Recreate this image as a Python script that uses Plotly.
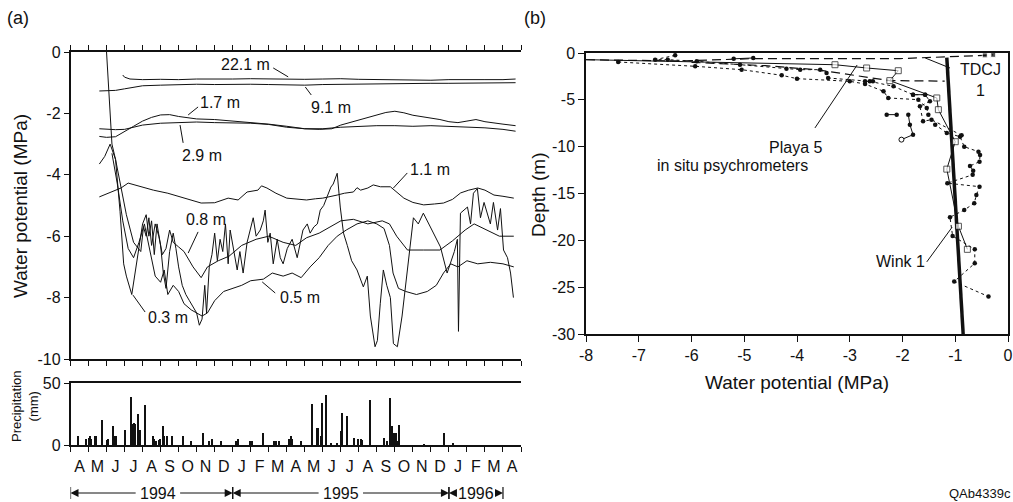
import plotly.graph_objects as go

W, H = 1013, 502
FONT = "Liberation Sans, Arial, Helvetica, sans-serif"
INK = "#111111"


def px(x):
    return min(1.0, max(0.0, x / W))


def py(y):
    return min(1.0, max(0.0, 1 - y / H))


# ---------------- Panel (a): water potential time series ----------------
# x = months since 1 April 1994, value = water potential (MPa)
psi_22_1m = [(2.9, -0.75), (3.0, -0.82), (3.3, -0.88), (4, -0.9), (5, -0.89), (6, -0.9), (7, -0.88),
             (8, -0.89), (9, -0.88), (10, -0.87), (11, -0.88), (12, -0.9), (13, -0.89), (14, -0.88),
             (15, -0.87), (16, -0.89), (17, -0.9), (18, -0.9), (19, -0.91), (20, -0.92), (21, -0.9),
             (22, -0.91), (23, -0.9), (24, -0.9), (24.7, -0.88)]
psi_9_1m = [(1.6, -1.27), (2.0, -1.27), (2.5, -1.25), (3.0, -1.2), (3.5, -1.14), (4, -1.1), (5, -1.08),
            (6, -1.06), (7, -1.05), (8, -1.06), (9, -1.05), (10, -1.05), (11, -1.06), (12, -1.07),
            (13, -1.08), (14, -1.06), (15, -1.05), (16, -1.04), (17, -1.04), (18, -1.03), (19, -1.03),
            (20, -1.02), (21, -1.02), (22, -1.02), (23, -1.01), (24, -1.02), (24.7, -1.0)]
psi_1_7m = [(1.6, -2.75), (2.0, -2.78), (2.5, -2.76), (3.0, -2.6), (3.5, -2.42), (4.0, -2.25), (4.5, -2.13),
            (5.0, -2.05), (5.5, -2.04), (6.0, -2.1), (6.5, -2.15), (7.0, -2.18), (8.0, -2.2), (9.0, -2.25),
            (10, -2.28), (11, -2.35), (12, -2.42), (13, -2.5), (13.8, -2.52), (14.5, -2.5), (15, -2.38),
            (15.5, -2.3), (16, -2.22), (16.5, -2.12), (17, -2.05), (17.5, -1.97), (18, -1.93), (18.5, -1.98),
            (19, -2.06), (19.5, -2.1), (20, -2.15), (20.5, -2.2), (21, -2.27), (21.5, -2.3), (22, -2.25),
            (22.5, -2.2), (23, -2.27), (23.5, -2.32), (24, -2.35), (24.7, -2.4)]
psi_2_9m = [(1.6, -2.5), (2.5, -2.53), (3.0, -2.52), (3.5, -2.45), (4.0, -2.38), (5.0, -2.32), (6.0, -2.3),
            (7.0, -2.28), (8.0, -2.3), (9.0, -2.3), (10, -2.32), (11, -2.36), (12, -2.45), (13, -2.5),
            (14, -2.5), (15, -2.45), (16, -2.42), (17, -2.4), (18, -2.4), (19, -2.42), (20, -2.4),
            (21, -2.42), (22, -2.44), (23, -2.47), (24, -2.52), (24.7, -2.58)]
psi_1_1m = [(1.6, -4.72), (2.25, -4.56), (2.8, -4.43), (3.2, -4.27), (3.9, -4.39), (4.6, -4.5), (5.4, -4.6),
            (6.4, -4.76), (7.25, -4.92), (8.0, -4.91), (8.75, -4.76), (9.3, -4.82), (9.8, -4.56),
            (10.4, -4.5), (10.6, -4.36), (10.9, -4.43), (11.4, -4.6), (12.0, -4.76), (12.6, -4.8),
            (13.1, -4.82), (13.6, -4.78), (14.0, -4.76), (14.8, -4.66), (15.2, -4.6), (15.7, -4.56),
            (15.9, -4.42), (16.1, -4.5), (16.5, -4.43), (16.8, -4.33), (17.2, -4.39), (17.75, -4.39),
            (18.1, -4.55), (18.5, -4.76), (19.0, -4.9), (19.6, -4.98), (20.2, -4.95), (20.7, -4.92),
            (21.2, -4.8), (21.65, -4.59), (22.1, -4.5), (22.6, -4.43), (23.0, -4.5), (23.5, -4.66),
            (24.0, -4.7), (24.6, -4.76)]
psi_0_8m = [(1.6, -3.65), (1.9, -3.4), (2.2, -3.0), (2.5, -3.5), (2.8, -4.4), (3.1, -5.3), (3.5, -6.2),
            (3.9, -6.5), (4.05, -5.7), (4.2, -6.0), (4.35, -5.4), (4.5, -6.3), (4.7, -5.6), (4.9, -6.0),
            (5.1, -6.6), (5.3, -6.4), (5.5, -5.8), (5.7, -6.2), (6.0, -6.35), (6.3, -6.5), (6.8, -7.0),
            (7.25, -7.35), (7.6, -7.0), (8.2, -6.8), (8.8, -6.65), (9.5, -6.3), (10.3, -6.1), (11.0, -6.0),
            (11.8, -6.2), (12.5, -6.3), (13.1, -6.05), (13.8, -5.9), (14.4, -5.7), (15.0, -5.5),
            (15.7, -5.45), (16.5, -5.6), (17.3, -5.5), (17.7, -5.6), (18.1, -6.0), (18.7, -6.45),
            (19.6, -6.45), (20.5, -6.45), (21.2, -6.15), (21.9, -5.8), (22.4, -5.6), (23.1, -5.8),
            (23.8, -6.0), (24.6, -6.0)]
psi_0_5m = [(2.3, -3.3), (2.6, -4.3), (2.9, -5.5), (3.2, -6.4), (3.5, -6.7), (3.8, -6.2), (4.1, -5.6),
            (4.4, -6.5), (4.7, -7.3), (5.0, -7.5), (5.2, -7.1), (5.4, -7.9), (5.7, -7.6), (6.0, -7.8),
            (6.3, -8.2), (6.7, -8.4), (7.0, -8.5), (7.3, -8.6), (7.6, -8.5), (8.0, -8.1), (8.5, -7.8),
            (9.0, -7.7), (9.5, -7.6), (10.0, -7.45), (10.7, -7.4), (11.2, -7.2), (11.8, -7.3),
            (12.3, -7.2), (12.8, -7.35), (13.3, -7.0), (13.8, -6.7), (14.3, -6.3), (14.8, -6.0),
            (15.3, -5.8), (15.9, -5.6), (16.5, -5.5), (17.0, -5.6), (17.4, -5.75), (17.7, -6.3),
            (17.9, -7.2), (18.2, -7.7), (18.6, -7.8), (19.2, -7.9), (19.8, -7.8), (20.3, -7.6),
            (20.7, -7.2), (21.1, -6.9), (21.5, -7.0), (22.0, -6.8), (22.6, -6.9), (23.3, -6.85),
            (24.0, -6.9), (24.6, -7.0)]
psi_0_3m = [(2.0, 0.0), (2.15, -1.6), (2.3, -3.0), (2.5, -3.5), (2.75, -5.2), (2.95, -6.9), (3.1, -7.3),
            (3.4, -7.9), (3.7, -6.8), (4.0, -5.6), (4.2, -5.3), (4.35, -6.0), (4.5, -5.5), (4.65, -6.6),
            (4.8, -5.6), (5.0, -6.3), (5.15, -7.2), (5.3, -7.7), (5.5, -6.5), (5.7, -5.9), (5.85, -6.4),
            (6.0, -7.0), (6.2, -7.6), (6.4, -7.9), (6.6, -8.1), (6.8, -8.3), (7.0, -8.5), (7.15, -8.9),
            (7.3, -8.7), (7.45, -7.6), (7.55, -8.5), (7.7, -7.0), (7.85, -6.6), (8.0, -5.9), (8.15, -6.8),
            (8.3, -6.1), (8.45, -6.5), (8.6, -5.6), (8.75, -6.9), (8.86, -5.8), (9.05, -6.4), (9.25, -7.1),
            (9.4, -6.5), (9.58, -7.2), (9.8, -6.2), (10.14, -5.4), (10.3, -6.0), (10.53, -5.8),
            (10.7, -5.5), (10.8, -5.15), (10.95, -6.2), (11.08, -5.9), (11.25, -6.9), (11.47, -6.1),
            (11.64, -6.7), (11.8, -6.9), (12.03, -6.4), (12.3, -6.1), (12.58, -6.7), (12.9, -5.8),
            (13.14, -5.6), (13.3, -5.9), (13.5, -5.7), (13.7, -5.6), (13.86, -5.15), (14.05, -5.0),
            (14.25, -4.7), (14.45, -4.4), (14.58, -4.3), (14.8, -3.95), (14.97, -5.05), (15.15, -5.9),
            (15.36, -6.3), (15.6, -6.8), (15.9, -7.1), (16.1, -7.4), (16.25, -7.65), (16.47, -7.3),
            (16.64, -8.6), (16.9, -9.6), (17.03, -9.4), (17.19, -8.2), (17.36, -7.1), (17.55, -7.6),
            (17.75, -8.0), (17.92, -9.5), (18.14, -9.6), (18.4, -8.6), (18.7, -7.1), (19.03, -5.4),
            (19.3, -5.6), (19.58, -5.25), (19.97, -5.7), (20.25, -6.0), (20.53, -6.35), (20.9, -7.2),
            (21.08, -6.9), (21.3, -6.5), (21.47, -6.1), (21.53, -9.1), (21.64, -5.25), (22.03, -5.05),
            (22.2, -5.6), (22.36, -4.6), (22.58, -4.45), (22.75, -5.4), (22.95, -4.9), (23.14, -5.25),
            (23.3, -5.6), (23.47, -4.9), (23.7, -5.8), (23.86, -5.1), (24.03, -6.45), (24.25, -6.7),
            (24.42, -7.2), (24.58, -8.0)]

series_a = [psi_22_1m, psi_9_1m, psi_1_7m, psi_2_9m, psi_1_1m, psi_0_8m, psi_0_5m, psi_0_3m]

# depth labels: (text, label month, label value, leader start, leader end)
depth_labels = [
    ("22.1 m", 9.69, -0.42, (11.25, -0.52), (12.08, -0.81)),
    ("9.1 m", 14.47, -1.82, (13.36, -1.40), (13.03, -1.14)),
    ("1.7 m", 8.31, -1.66, (7.08, -1.79), (6.53, -2.05)),
    ("2.9 m", 7.31, -3.36, (6.25, -2.96), (6.08, -2.38)),
    ("1.1 m", 19.97, -3.84, (18.69, -3.94), (17.92, -4.43)),
    ("0.8 m", 7.53, -5.47, (7.08, -5.86), (6.53, -6.55)),
    ("0.5 m", 12.75, -8.01, (11.36, -7.85), (10.64, -7.49)),
    ("0.3 m", 5.42, -8.66, (4.14, -8.47), (3.47, -7.92)),
]

# ---------------- Precipitation (mm), months since 1 April 1994 ----------------
precip = [(0.38, 7.3), (0.86, 5), (0.99, 6), (1.05, 7), (1.12, 5), (1.36, 7), (1.42, 7), (1.73, 20),
          (2.01, 4), (2.06, 5), (2.34, 15), (2.47, 7), (2.53, 7), (2.99, 12), (3.36, 39), (3.44, 17),
          (3.49, 17.5), (3.55, 17), (3.73, 25), (3.86, 12), (4.10, 32), (4.55, 7), (4.64, 5), (4.73, 3),
          (4.88, 4), (4.97, 5), (5.12, 15), (5.19, 7), (5.31, 7), (5.62, 7), (6.23, 7), (6.68, 3),
          (7.34, 10), (7.66, 3), (7.84, 5), (8.34, 3), (9.14, 3), (9.27, 5), (9.94, 3), (10.01, 3),
          (10.06, 3), (10.68, 10), (11.27, 3), (11.36, 3), (11.55, 3), (12.10, 5), (12.19, 7),
          (12.29, 5), (12.75, 3), (13.40, 33), (13.68, 13.5), (13.73, 13.5), (13.90, 7), (13.93, 7),
          (13.96, 34), (14.14, 40.5), (14.42, 1), (14.79, 1), (14.97, 11), (15.06, 26), (15.31, 23),
          (15.71, 6), (15.94, 5), (16.08, 5), (16.18, 4), (16.60, 36.5), (17.38, 6), (17.57, 3),
          (17.71, 38), (17.79, 15), (17.84, 15), (17.94, 9.5), (18.03, 9.5), (18.12, 3), (18.21, 16),
          (19.57, 0.5), (20.71, 10), (21.23, 2)]

month_letters = ["A", "M", "J", "J", "A", "S", "O", "N", "D", "J", "F", "M", "A",
                 "M", "J", "J", "A", "S", "O", "N", "D", "J", "F", "M", "A"]
years = [("1994", 0, 9, 4.85), ("1995", 9, 21, 15.0), ("1996", 21, 24, 22.5)]

# ---------------- Panel (b): depth profiles ----------------
thick_P = [-1.16, -0.85]
thick_D = [-0.5, -30]

sq_P = [-8.0, -3.28, -2.68, -2.08, -2.24, -1.35, -1.32, -1.0, -1.16, -0.94, -0.77]
sq_D = [-0.71, -1.25, -1.6, -1.89, -2.95, -4.8, -6.05, -9.47, -12.4, -18.5, -20.96]

dashA_P = [-8.0, -6.2, -4.83, -2.05, -0.44, -0.28]
dashA_D = [-0.72, -0.85, -0.6, -0.6, -0.25, -0.2]
dashB_P = [-6.0, -4.6, -3.6, -2.24, -1.2]
dashB_D = [-1.0, -1.35, -1.8, -2.95, -3.0]

dot1_P = [-7.39, -5.93, -5.05, -4.29, -4.0, -3.0, -2.71, -2.36, -2.27, -1.7, -1.54, -1.51, -1.38, -1.16,
          -0.91, -0.83, -0.56, -0.53, -0.54, -0.72, -0.66, -0.67, -1.15, -0.54, -0.6, -0.64, -0.83,
          -1.1, -1.05, -0.63, -0.63, -1.02, -0.37]
dot1_D = [-0.96, -1.42, -1.78, -2.38, -2.74, -3.02, -3.31, -4.09, -4.8, -4.98, -5.87, -6.58, -7.65, -8.54,
          -8.93, -10.0, -10.54, -10.89, -11.6, -12.06, -12.56, -13.0, -13.9, -14.27, -15.16, -16.04,
          -16.76, -17.54, -19.54, -20.96, -22.45, -24.4, -26.0]
dot2_P = [-6.31, -6.69, -6.45, -5.9, -5.08, -4.2, -3.94, -3.56, -3.44, -3.41, -2.62, -2.17, -1.8, -1.57,
          -1.48, -1.67, -1.61, -1.45, -0.88]
dot2_D = [-0.25, -0.71, -0.71, -0.89, -1.25, -1.67, -1.78, -1.78, -2.14, -2.67, -3.02, -3.56, -4.45, -4.45,
          -5.16, -5.69, -7.29, -7.12, -8.79]

seg_P = [-5.2, -4.83, None, -2.71, -2.56, None, -1.8, -1.57, None, -2.3, -2.11, None, -1.89, -1.86, -1.8, -2.02]
seg_D = [-0.62, -0.53, None, -3.02, -3.02, None, -4.45, -4.45, None, -6.58, -6.58, None, -6.58, -7.65, -8.72, -9.25]

fig = go.Figure()

for s in series_a:
    fig.add_trace(go.Scatter(x=[p[0] for p in s], y=[p[1] for p in s], mode="lines",
                             line=dict(color=INK, width=1), xaxis="x", yaxis="y", showlegend=False,
                             hoverinfo="skip"))

fig.add_trace(go.Bar(x=[p[0] for p in precip], y=[p[1] for p in precip], width=0.07,
                     marker=dict(color=INK, line=dict(width=0)), xaxis="x2", yaxis="y2",
                     showlegend=False, hoverinfo="skip"))

fig.add_trace(go.Scatter(x=thick_P, y=thick_D, mode="lines", line=dict(color=INK, width=3.5),
                         xaxis="x3", yaxis="y3", showlegend=False))
fig.add_trace(go.Scatter(x=dashA_P, y=dashA_D, mode="lines+markers",
                         line=dict(color=INK, width=1.2, dash="9px,5px"),
                         marker=dict(symbol="square", size=[0, 0, 0, 0, 5, 5], color=INK),
                         xaxis="x3", yaxis="y3", showlegend=False))
fig.add_trace(go.Scatter(x=dashB_P, y=dashB_D, mode="lines", line=dict(color=INK, width=1.2, dash="9px,5px"),
                         xaxis="x3", yaxis="y3", showlegend=False))
fig.add_trace(go.Scatter(x=dot1_P, y=dot1_D, mode="lines+markers", line=dict(color=INK, width=1, dash="dot"),
                         marker=dict(size=4.5, color=INK), xaxis="x3", yaxis="y3", showlegend=False))
fig.add_trace(go.Scatter(x=dot2_P, y=dot2_D, mode="lines+markers", line=dict(color=INK, width=1, dash="dot"),
                         marker=dict(size=4.5, color=INK), xaxis="x3", yaxis="y3", showlegend=False))
fig.add_trace(go.Scatter(x=seg_P, y=seg_D, mode="lines+markers", line=dict(color=INK, width=1),
                         marker=dict(size=4.5, color=INK), connectgaps=False,
                         xaxis="x3", yaxis="y3", showlegend=False))
fig.add_trace(go.Scatter(x=[seg_P[-1]], y=[seg_D[-1]], mode="markers",
                         marker=dict(size=5, color="white", line=dict(color=INK, width=1)),
                         xaxis="x3", yaxis="y3", showlegend=False))
fig.add_trace(go.Scatter(x=sq_P, y=sq_D, mode="lines+markers", line=dict(color=INK, width=1),
                         marker=dict(symbol="square", size=[0] + [6] * (len(sq_P) - 1), color="white",
                                     line=dict(color=INK, width=1)),
                         xaxis="x3", yaxis="y3", showlegend=False))

annotations = []
shapes = []


def label(text, x, y, xref, yref, size=16, angle=0):
    return dict(text=text, x=x, y=y, xref=xref, yref=yref, showarrow=False, textangle=angle,
                xanchor="center", yanchor="middle", font=dict(size=size, family=FONT, color=INK))


for text, lx, ly, (x0, y0), (x1, y1) in depth_labels:
    annotations.append(label(text, lx, ly, "x", "y"))
    shapes.append(dict(type="line", xref="x", yref="y", x0=x0, y0=y0, x1=x1, y1=y1,
                       line=dict(color=INK, width=1)))

# panel (b) labels and leaders
b_labels = [("Playa 5", -4.02, -10.14), ("in situ psychrometers", -5.23, -12.06),
            ("TDCJ<br>1", -0.53, -2.83), ("Wink 1", -2.03, -22.3)]
for text, lx, ly in b_labels:
    annotations.append(label(text, lx, ly, "x3", "y3"))
b_leaders = [((-3.66, -8.0), (-2.86, -1.28)), ((-1.10, -1.6), (-1.57, -0.53)),
             ((-1.54, -22.3), (-1.06, -18.6))]
for (x0, y0), (x1, y1) in b_leaders:
    shapes.append(dict(type="line", xref="x3", yref="y3", x0=x0, y0=y0, x1=x1, y1=y1,
                       line=dict(color=INK, width=1)))

# years with arrows under the month axis
yy = py(493)
for text, start, end, c in years:
    annotations.append(label(text, c, yy, "x2", "paper"))
    for head, tail in ((start, c - 1.15), (end, c + 1.15)):
        annotations.append(dict(text="", x=head, y=yy, xref="x2", yref="paper", showarrow=True,
                                ax=tail, ay=0, axref="x2", ayref="pixel", arrowhead=2,
                                arrowsize=1.6, arrowwidth=1, arrowcolor=INK, standoff=0))
    for b in (start, end):
        shapes.append(dict(type="line", xref="x2", yref="paper", x0=b, x1=b, y0=py(499), y1=py(487),
                           line=dict(color=INK, width=1.2)))

paper_text = [
    ("(a)", 18, 18, 18, 0), ("(b)", 535, 18, 18, 0),
    ("Water potential (MPa)", 20, 206, 19, -90),
    ("Precipitation<br>(mm)", 25, 406, 13, -90),
    ("Depth (m)", 538, 195, 19, -90),
    ("Water potential (MPa)", 797, 382, 19, 0),
    ("QAb4339c", 980, 493, 13, 0),
]
for text, x, y, size, ang in paper_text:
    annotations.append(label(text, px(x), py(y), "paper", "paper", size, ang))

axis_common = dict(showgrid=False, zeroline=False, showline=True, linecolor=INK, linewidth=1.5,
                   tickcolor=INK, tickfont=dict(size=16, family=FONT, color=INK), automargin=False)

fig.update_layout(
    width=W, height=H, margin=dict(l=0, r=0, t=0, b=0),
    paper_bgcolor="white", plot_bgcolor="white", bargap=0,
    font=dict(family=FONT, color=INK),
    xaxis=dict(domain=[px(70.5), px(521)], range=[0, 25], anchor="y", tickmode="array",
               tickvals=list(range(26)), showticklabels=False, ticks="outside", ticklen=5,
               mirror="ticks", **axis_common),
    yaxis=dict(domain=[py(359), py(52)], range=[-10, 0], anchor="x", tickmode="array",
               tickvals=[0, -2, -4, -6, -8, -10], ticktext=["0", "-2", "-4", "-6", "-8", "-10"],
               ticks="outside", ticklen=5, **axis_common),
    xaxis2=dict(domain=[px(70.5), px(521)], range=[0, 25], anchor="y2", tickmode="array",
                tickvals=[i + 0.5 for i in range(25)], ticktext=month_letters, ticks="outside",
                ticklen=6, tickwidth=0.01, mirror=True,
                minor=dict(tick0=0, dtick=1, ticks="outside", ticklen=5, tickcolor=INK),
                **{**axis_common, "tickcolor": "rgba(0,0,0,0)"}),
    yaxis2=dict(domain=[py(445), py(383)], range=[0, 50], anchor="x2", tickmode="array",
                tickvals=[0, 50], ticks="outside", ticklen=5, **axis_common),
    xaxis3=dict(domain=[px(586), px(1008)], range=[-8, 0], anchor="y3", tickmode="array",
                tickvals=list(range(-8, 1)), ticktext=[str(v) for v in range(-8, 1)],
                ticks="outside", ticklen=6, mirror=True, **axis_common),
    yaxis3=dict(domain=[py(334), py(53)], range=[-30, 0], anchor="x3", tickmode="array",
                tickvals=[0, -5, -10, -15, -20, -25, -30],
                ticktext=["0", "-5", "-10", "-15", "-20", "-25", "-30"],
                ticks="outside", ticklen=6, mirror=True, **axis_common),
    annotations=annotations, shapes=shapes,
)

# remove the default page margin so the 1013x502 figure fills the window exactly
fig.write_html("out.html", config={"displayModeBar": False},
               post_script="document.body.style.margin='0px';document.body.style.overflow='hidden';")
